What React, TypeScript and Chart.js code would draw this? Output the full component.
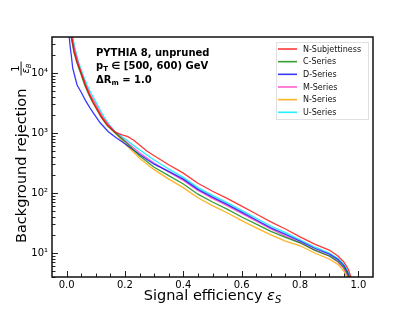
import React, { useEffect, useRef } from "react";
import { Chart, registerables } from "chart.js";
Chart.register(...registerables);

// ---- data (signal efficiency vs background rejection) ----
const seriesNames = ["N-Subjettiness", "C-Series", "D-Series", "M-Series", "N-Series", "U-Series"];
const seriesColors = [
  "rgba(255,0,0,0.78)",
  "rgba(0,128,0,0.78)",
  "rgba(0,0,255,0.78)",
  "rgba(255,40,190,0.75)",
  "rgba(255,165,0,0.85)",
  "rgba(0,235,255,0.85)",
];

const nsubEff = [0.016, 0.026, 0.036, 0.044, 0.052, 0.064, 0.077, 0.09, 0.1, 0.12, 0.14, 0.165, 0.19, 0.21, 0.23, 0.25, 0.275, 0.3, 0.35, 0.4, 0.45, 0.5, 0.55, 0.6, 0.65, 0.7, 0.75, 0.8, 0.85, 0.9, 0.93, 0.95, 0.965, 0.975];
const nsubRej = [41700, 22400, 15140, 12020, 9333, 6310, 4467, 3311, 2692, 1820, 1349, 1047, 933, 871, 759, 631, 501, 417, 295, 214, 145, 107, 81.3, 60.3, 44.7, 33.1, 25.1, 18.6, 14.1, 11.2, 8.91, 7.08, 5.4, 3.9];

const cEff = [0.015, 0.025, 0.035, 0.042, 0.05, 0.062, 0.075, 0.088, 0.1, 0.12, 0.14, 0.162, 0.2, 0.25, 0.3, 0.35, 0.4, 0.45, 0.5, 0.55, 0.6, 0.65, 0.7, 0.75, 0.8, 0.85, 0.9, 0.93, 0.95, 0.96, 0.968];
const cRej = [41700, 22400, 15140, 12020, 9333, 6310, 4467, 3311, 2630, 1778, 1318, 1047, 724, 417, 269, 195, 141, 95.5, 70.8, 53.7, 39.8, 30.2, 22.9, 18.2, 14.8, 11.2, 8.91, 7.24, 5.75, 4.8, 3.9];

const dEff = [0.008, 0.012, 0.016, 0.021, 0.028, 0.036, 0.05, 0.065, 0.08, 0.095, 0.115, 0.143, 0.17, 0.2, 0.25, 0.3, 0.35, 0.4, 0.45, 0.5, 0.55, 0.6, 0.65, 0.7, 0.75, 0.8, 0.85, 0.9, 0.93, 0.95, 0.96, 0.97];
const dRej = [44700, 28200, 19950, 12020, 8913, 6310, 4786, 3467, 2630, 2042, 1479, 1047, 832, 661, 437, 302, 229, 170, 115, 85.1, 64.6, 47.9, 35.5, 26.3, 20.4, 15.8, 12.0, 9.55, 7.76, 6.17, 5.1, 3.9];

const mEff = [0.018, 0.028, 0.038, 0.045, 0.054, 0.066, 0.08, 0.095, 0.108, 0.125, 0.145, 0.165, 0.2, 0.25, 0.3, 0.35, 0.4, 0.45, 0.5, 0.55, 0.6, 0.65, 0.7, 0.75, 0.8, 0.85, 0.9, 0.93, 0.95, 0.96, 0.965];
const mRej = [41700, 24000, 15850, 12020, 9120, 6310, 4467, 3311, 2512, 1778, 1349, 1047, 741, 468, 316, 224, 162, 110, 81.3, 61.7, 45.7, 33.9, 25.1, 19.1, 14.8, 11.2, 8.91, 7.08, 5.5, 4.5, 3.9];

const nEff = [0.017, 0.027, 0.037, 0.045, 0.053, 0.066, 0.079, 0.092, 0.104, 0.124, 0.143, 0.163, 0.2, 0.25, 0.3, 0.35, 0.4, 0.45, 0.5, 0.55, 0.6, 0.65, 0.7, 0.75, 0.8, 0.85, 0.9, 0.93, 0.95, 0.96, 0.964];
const nRej = [41700, 22400, 15140, 12020, 9333, 6310, 4467, 3311, 2630, 1820, 1349, 1047, 661, 380, 245, 170, 123, 83.2, 61.7, 46.8, 34.7, 26.3, 20.0, 15.8, 13.2, 10.0, 7.94, 6.46, 5.01, 4.1, 3.8];

const uEff = [0.02, 0.03, 0.04, 0.048, 0.057, 0.07, 0.085, 0.1, 0.113, 0.13, 0.148, 0.167, 0.2, 0.25, 0.3, 0.35, 0.4, 0.45, 0.5, 0.55, 0.6, 0.65, 0.7, 0.75, 0.8, 0.85, 0.9, 0.93, 0.95, 0.962, 0.972];
const uRej = [41700, 24000, 15850, 12020, 9120, 6310, 4467, 3311, 2512, 1778, 1349, 1047, 794, 525, 355, 251, 182, 123, 91.2, 69.2, 51.3, 38.0, 28.2, 21.9, 16.6, 12.6, 10.0, 8.13, 6.46, 5.1, 3.9];

const seriesEff = [nsubEff, cEff, dEff, mEff, nEff, uEff];
const seriesRej = [nsubRej, cRej, dRej, mRej, nRej, uRej];

const xMin = -0.05;
const xMax = 1.05;
const xMajorTicks = [0, 0.2, 0.4, 0.6, 0.8, 1.0];
const xTickLabels = ["0.0", "0.2", "0.4", "0.6", "0.8", "1.0"];
const yMin = 3.98;
const yMax = 39800;
const yMajorTicks = [10, 100, 1000, 10000];
const yTickLabels = ["10\u00B9", "10\u00B2", "10\u00B3", "10\u2074"];

const FF = "'DejaVu Sans'";

type Run = { t: string; f: string; dy?: number };

function runsWidth(ctx: CanvasRenderingContext2D, runs: Run[]) {
  let w = 0;
  for (const r of runs) {
    ctx.font = r.f;
    w += ctx.measureText(r.t).width;
  }
  return w;
}
function drawRuns(ctx: CanvasRenderingContext2D, runs: Run[], x: number, y: number) {
  let cx = x;
  for (const r of runs) {
    ctx.font = r.f;
    ctx.fillText(r.t, cx, y + (r.dy || 0));
    cx += ctx.measureText(r.t).width;
  }
  return cx;
}

const decor = {
  id: "decor",
  afterDraw(chart: any) {
    const { ctx, chartArea: a, scales } = chart;
    const xs = scales.x;
    const ys = scales.y;
    ctx.save();

    // inner tick marks
    ctx.strokeStyle = "#222";
    ctx.lineWidth = 1;
    ctx.beginPath();
    for (let k = 0; k <= 20; k++) {
      const v = k / 20;
      const px = Math.round(xs.getPixelForValue(v)) + 0.5;
      const len = k % 4 === 0 ? 6 : 3.5;
      ctx.moveTo(px, a.bottom);
      ctx.lineTo(px, a.bottom - len);
    }
    for (let e = 0; e <= 4; e++) {
      for (let m = 1; m <= 9; m++) {
        const v = m * Math.pow(10, e);
        if (v <= yMin || v >= yMax) continue;
        const py = Math.round(ys.getPixelForValue(v)) + 0.5;
        const len = m === 1 ? 6 : 3.5;
        ctx.moveTo(a.left, py);
        ctx.lineTo(a.left + len, py);
      }
    }
    ctx.stroke();

    // frame
    ctx.strokeStyle = "#111";
    ctx.lineWidth = 1.5;
    ctx.strokeRect(a.left, a.top, a.right - a.left, a.bottom - a.top);

    ctx.fillStyle = "#000";
    ctx.textBaseline = "alphabetic";
    ctx.textAlign = "left";

    // x title
    const xr: Run[] = [
      { t: "Signal efficiency ", f: `14.5px ${FF}` },
      { t: "\u03B5", f: `italic 14.5px ${FF}` },
      { t: "S", f: `italic 10px ${FF}`, dy: 3 },
    ];
    const xw = runsWidth(ctx, xr);
    drawRuns(ctx, xr, (a.left + a.right) / 2 - xw / 2, 300);

    // y title (rotated)
    ctx.save();
    ctx.rotate(-Math.PI / 2);
    ctx.font = `14.5px ${FF}`;
    ctx.fillText("Background rejection", -243, 25.5);
    // fraction 1 / eps_B
    const fc = -68.5;
    ctx.textAlign = "center";
    ctx.font = `10px ${FF}`;
    ctx.fillText("1", fc, 19);
    ctx.fillRect(fc - 7, 20.6, 14, 0.9);
    const dr: Run[] = [
      { t: "\u03B5", f: `italic 10px ${FF}` },
      { t: "B", f: `italic 7px ${FF}`, dy: 2 },
    ];
    ctx.textAlign = "left";
    const dw = runsWidth(ctx, dr);
    drawRuns(ctx, dr, fc - dw / 2, 29);
    ctx.restore();

    // annotation
    const B = `bold 10px ${FF}`;
    const Bs = `bold 7px ${FF}`;
    drawRuns(ctx, [{ t: "PYTHIA 8, unpruned", f: B }], 96, 56);
    drawRuns(ctx, [
      { t: "p", f: B },
      { t: "T", f: Bs, dy: 2 },
      { t: " \u2208 [500, 600) GeV", f: B },
    ], 96, 69);
    drawRuns(ctx, [
      { t: "\u0394R", f: B },
      { t: "m", f: Bs, dy: 2 },
      { t: " = 1.0", f: B },
    ], 96, 83);

    // legend
    const lx = 276, ly = 42, lw = 93, lh = 78;
    ctx.fillStyle = "#fff";
    ctx.fillRect(lx, ly, lw, lh);
    ctx.strokeStyle = "rgba(0,0,0,0.12)";
    ctx.lineWidth = 1;
    ctx.strokeRect(lx + 0.5, ly + 0.5, lw - 1, lh - 1);
    ctx.font = `8px ${FF}`;
    ctx.textBaseline = "middle";
    for (let i = 0; i < seriesNames.length; i++) {
      const yy = 49 + i * 12.66;
      ctx.strokeStyle = seriesColors[i];
      ctx.lineWidth = 1.6;
      ctx.beginPath();
      ctx.moveTo(278, yy);
      ctx.lineTo(297, yy);
      ctx.stroke();
      ctx.fillStyle = "#111";
      ctx.fillText(seriesNames[i], 303, yy + 0.5);
    }
    ctx.restore();
  },
};

export default function App() {
  const ref = useRef<HTMLCanvasElement>(null);
  useEffect(() => {
    document.body.style.margin = "0";
    Chart.defaults.font.family = FF;
    const canvas = ref.current!;
    const chart = new Chart(canvas, {
      type: "line",
      data: {
        datasets: seriesNames.map((name, i) => ({
          label: name,
          data: seriesEff[i].map((x, j) => ({ x, y: seriesRej[i][j] })),
          borderColor: seriesColors[i],
          backgroundColor: seriesColors[i],
          borderWidth: 1.3,
          pointRadius: 0,
          fill: false,
          tension: 0,
        })),
      },
      options: {
        responsive: false,
        animation: false,
        events: [],
        layout: { padding: { top: 37, right: 42, left: 0, bottom: 0 } },
        scales: {
          x: {
            type: "linear",
            min: xMin,
            max: xMax,
            grid: { display: false, drawTicks: false },
            border: { display: false },
            afterBuildTicks: (s: any) => {
              s.ticks = xMajorTicks.map((v) => ({ value: v }));
            },
            afterFit: (s: any) => {
              s.height = 35;
            },
            ticks: {
              autoSkip: false,
              maxRotation: 0,
              padding: 2,
              color: "#000",
              font: { size: 10, family: FF },
              callback: (v: any) => {
                const i = xMajorTicks.findIndex((t) => Math.abs(t - Number(v)) < 1e-6);
                return i >= 0 ? xTickLabels[i] : "";
              },
            },
          },
          y: {
            type: "logarithmic",
            min: yMin,
            max: yMax,
            grid: { display: false, drawTicks: false },
            border: { display: false },
            afterBuildTicks: (s: any) => {
              s.ticks = yMajorTicks.map((v) => ({ value: v }));
            },
            afterFit: (s: any) => {
              s.width = 52;
            },
            ticks: {
              autoSkip: false,
              padding: 4,
              color: "#000",
              font: { size: 10, family: FF },
              callback: (v: any) => {
                const i = yMajorTicks.findIndex((t) => Math.abs(t - Number(v)) < 1e-6 * t);
                return i >= 0 ? yTickLabels[i] : "";
              },
            },
          },
        },
        plugins: { legend: { display: false }, tooltip: { enabled: false } },
      },
      plugins: [decor],
    } as any);
    return () => chart.destroy();
  }, []);
  return (
    <div style={{ width: 415, height: 312, background: "#fff" }}>
      <canvas ref={ref} width={415} height={312} />
    </div>
  );
}
